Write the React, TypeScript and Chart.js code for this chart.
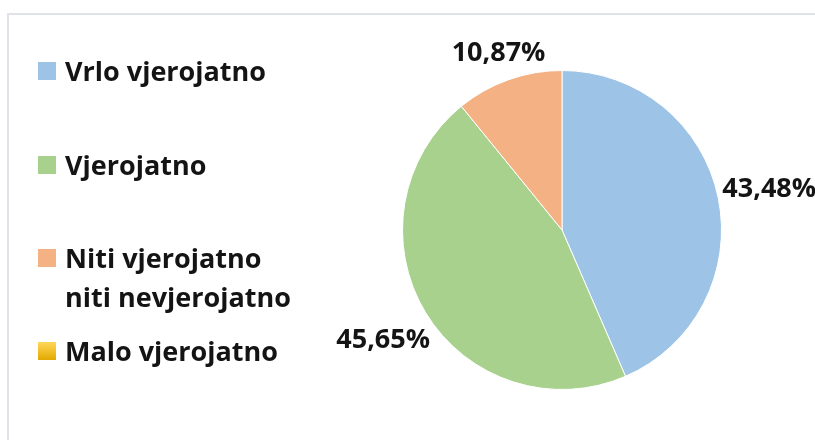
import React, { useEffect, useRef } from "react";
import { Chart, registerables } from "chart.js";

Chart.register(...registerables);

const categories = ["Vrlo vjerojatno", "Vjerojatno", "Niti vjerojatno\nniti nevjerojatno", "Malo vjerojatno"];
const values = [43.48, 45.65, 10.87, 0];
const colors = ["#9dc3e6", "#a9d18e", "#f4b183", "#ffc000"];
const valueLabels = ["43,48%", "45,65%", "10,87%", ""];

const FONT = "bold 27px 'Open Sans', Lato, sans-serif";

const legendPlugin = {
  id: "customLegend",
  afterDraw(chart: any) {
    const ctx = chart.ctx;
    ctx.save();
    ctx.font = FONT;
    ctx.textBaseline = "alphabetic";
    ctx.textAlign = "left";
    const rowTops = [62, 156, 249, 342];
    categories.forEach((cat, i) => {
      const top = rowTops[i];
      if (i === 3) {
        const g = ctx.createLinearGradient(0, top, 0, top + 18);
        g.addColorStop(0, "#ffd75a");
        g.addColorStop(1, "#e2a900");
        ctx.fillStyle = g;
      } else {
        ctx.fillStyle = colors[i];
      }
      ctx.fillRect(38, top, 18, 18);
      ctx.fillStyle = "#141414";
      cat.split("\n").forEach((line, j) => {
        ctx.fillText(line, 65, top + 19 + j * 39);
      });
    });
    ctx.restore();
  },
};

const valueLabelPlugin = {
  id: "valueLabels",
  afterDatasetsDraw(chart: any) {
    const ctx = chart.ctx;
    const meta = chart.getDatasetMeta(0);
    ctx.save();
    ctx.font = FONT;
    ctx.fillStyle = "#141414";
    ctx.textAlign = "center";
    ctx.textBaseline = "middle";
    meta.data.forEach((arc: any, i: number) => {
      const text = valueLabels[i];
      if (!text || values[i] === 0) return;
      const mid = (arc.startAngle + arc.endAngle) / 2;
      const c = Math.cos(mid);
      const s = Math.sin(mid);
      const w = ctx.measureText(text).width;
      const h = 22;
      const dist = arc.outerRadius + 4 + Math.abs(c) * w / 2 + Math.abs(s) * h / 2;
      ctx.fillText(text, arc.x + c * dist, arc.y + s * dist + 2);
    });
    ctx.restore();
  },
};

export default function App() {
  const ref = useRef<HTMLCanvasElement>(null);
  useEffect(() => {
    document.body.style.margin = "0";
    const chart = new Chart(ref.current!, {
      type: "pie",
      data: {
        labels: categories,
        datasets: [
          {
            data: values,
            backgroundColor: colors,
            borderColor: "#ffffff",
            borderWidth: 1,
          },
        ],
      },
      options: {
        animation: false,
        responsive: false,
        layout: { padding: { left: 402, right: 93, top: 70, bottom: 50 } },
        plugins: { legend: { display: false }, tooltip: { enabled: false } },
      },
      plugins: [legendPlugin, valueLabelPlugin],
    });
    return () => chart.destroy();
  }, []);
  return (
    <div style={{ position: "relative", width: 815, height: 440, overflow: "hidden", background: "#fff" }}>
      <div
        style={{
          position: "absolute",
          left: 7,
          top: 13,
          width: 900,
          height: 600,
          border: "2px solid #dfe3e8",
          boxSizing: "border-box",
        }}
      />
      <canvas ref={ref} width={815} height={440} style={{ position: "absolute", left: 0, top: 0 }} />
    </div>
  );
}
